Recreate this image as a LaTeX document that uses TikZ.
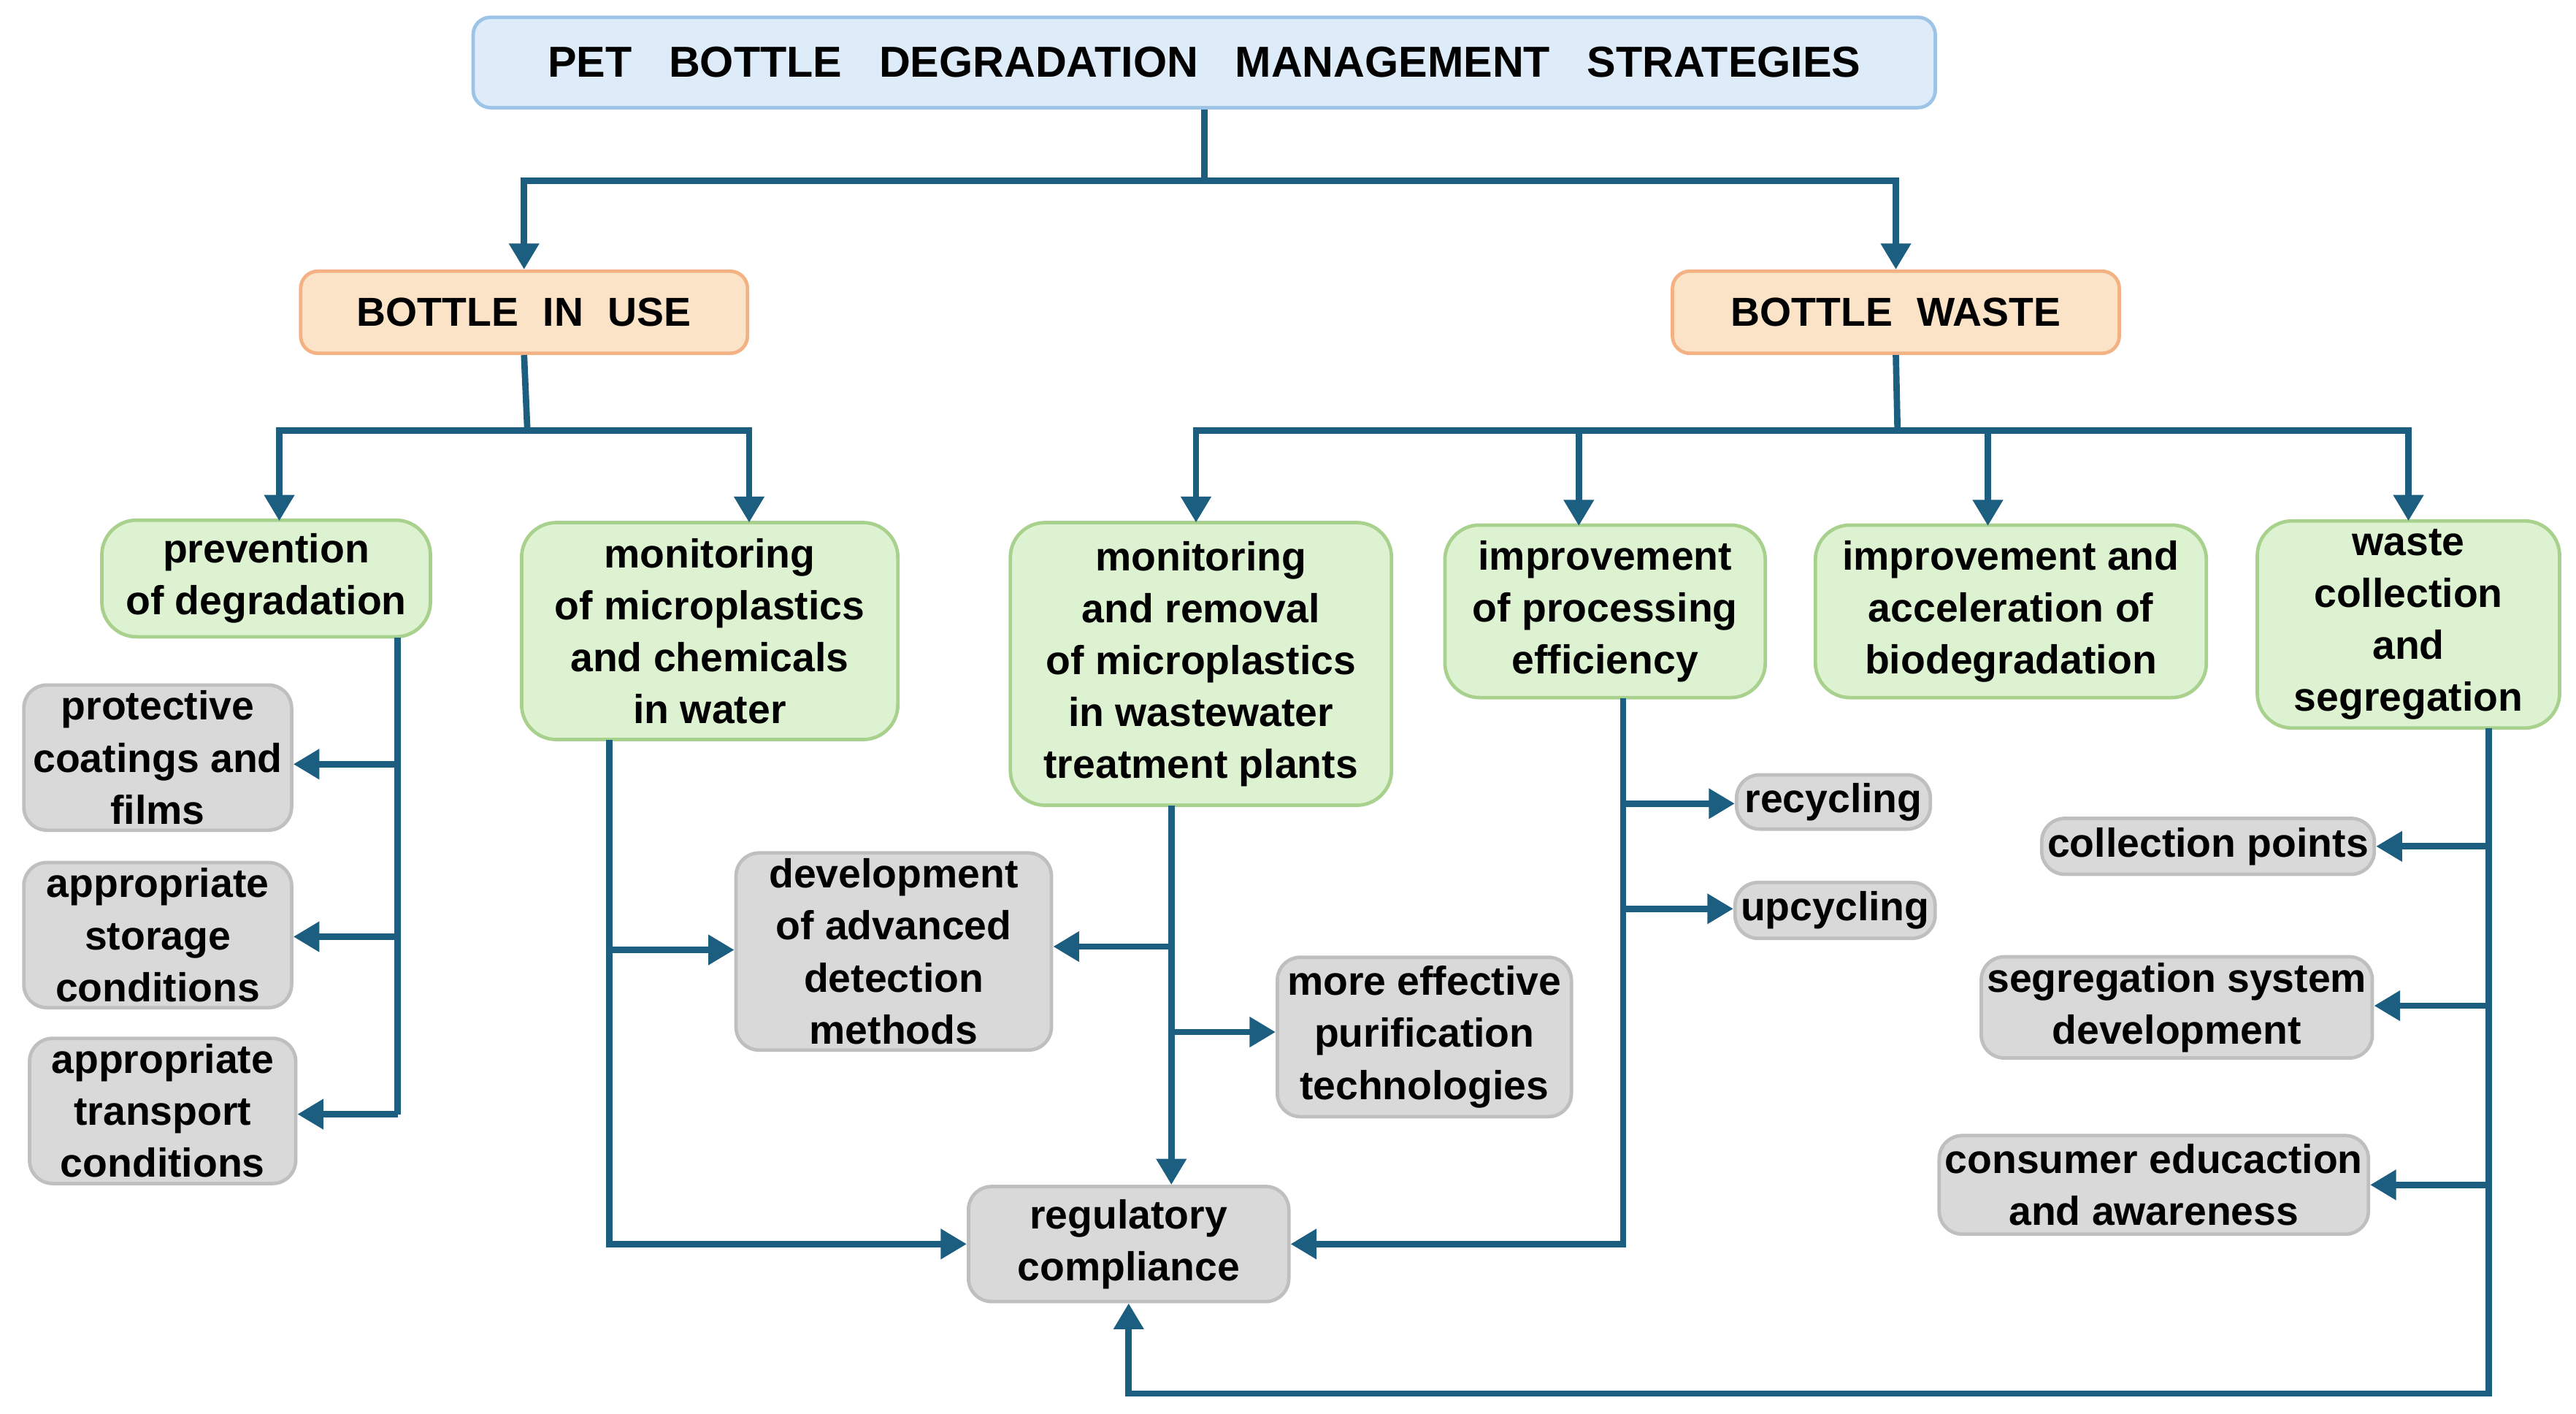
\documentclass[tikz,border=0pt]{standalone}
\usepackage{fontspec}
\setmainfont{Liberation Sans}
\usetikzlibrary{arrows.meta}
\definecolor{ln}{HTML}{1C5E80}
\definecolor{bluef}{HTML}{DEEBF8}\definecolor{blued}{HTML}{9DC3E6}
\definecolor{orf}{HTML}{FBE3C8}\definecolor{ord}{HTML}{F4B183}
\definecolor{grf}{HTML}{DDF2D1}\definecolor{grd}{HTML}{A9D18E}
\definecolor{gyf}{HTML}{D9D9D9}\definecolor{gyd}{HTML}{BFBFBF}
\begin{document}
\begin{tikzpicture}[x=0.02cm,y=-0.02cm,
 font=\fontsize{14}{18}\selectfont\bfseries,
 box/.style={draw,line width=1.2pt,align=center,inner sep=2pt},
 title/.style={box,fill=bluef,draw=blued,rounded corners=6pt},
 head/.style={box,fill=orf,draw=ord,rounded corners=6pt},
 green/.style={box,fill=grf,draw=grd,rounded corners=12pt},
 gray/.style={box,fill=gyf,draw=gyd,rounded corners=8pt},
 ar/.style={draw=ln,line width=2.2pt,-{Triangle[length=9pt,width=10pt]}},
 ln/.style={draw=ln,line width=2.2pt}]
\useasboundingbox (0,0) rectangle (1568,860);
\node[title,minimum width=890*0.02cm,minimum height=55*0.02cm,font=\fontsize{15}{18}\selectfont\bfseries] (t) at (733,38) {PET\hspace{0.45cm}BOTTLE\hspace{0.45cm}DEGRADATION\hspace{0.45cm}MANAGEMENT\hspace{0.45cm}STRATEGIES};
\node[head,minimum width=272*0.02cm,minimum height=50*0.02cm] (biu) at (319,190) {BOTTLE\hspace{0.3cm}IN\hspace{0.3cm}USE};
\node[head,minimum width=272*0.02cm,minimum height=50*0.02cm] (bw) at (1154,190) {BOTTLE\hspace{0.3cm}WASTE};
\node[green,minimum width=200*0.02cm,minimum height=71*0.02cm] (pr) at (162,352) {prevention\\of degradation};
\node[green,minimum width=229*0.02cm,minimum height=132*0.02cm] (mw) at (432,384) {monitoring\\of microplastics\\and chemicals\\in water};
\node[green,minimum width=232*0.02cm,minimum height=172*0.02cm] (mr) at (731,404) {monitoring\\and removal\\of microplastics\\in wastewater\\treatment plants};
\node[green,minimum width=195*0.02cm,minimum height=105*0.02cm] (ip) at (977,372) {improvement\\of processing\\efficiency};
\node[green,minimum width=238*0.02cm,minimum height=105*0.02cm] (ia) at (1224,372) {improvement and\\acceleration of\\biodegradation};
\node[green,minimum width=184*0.02cm,minimum height=126*0.02cm] (wc) at (1466,380) {waste\\collection\\and\\segregation};
\node[gray,minimum width=163*0.02cm,minimum height=83*0.02cm] (pc) at (96,461) {protective\\coatings and\\films};
\node[gray,minimum width=163*0.02cm,minimum height=82*0.02cm] (sc) at (96,569) {appropriate\\storage\\conditions};
\node[gray,minimum width=162*0.02cm,minimum height=83*0.02cm] (tc) at (99,676) {appropriate\\transport\\conditions};
\node[gray,minimum width=192*0.02cm,minimum height=111*0.02cm] (dv) at (544,579) {development\\of advanced\\detection\\methods};
\node[gray,minimum width=179*0.02cm,minimum height=97*0.02cm] (pu) at (867,631) {more effective\\purification\\technologies};
\node[gray,minimum width=195*0.02cm,minimum height=70*0.02cm] (rg) at (687,757) {regulatory\\compliance};
\node[gray,minimum width=118*0.02cm,minimum height=33*0.02cm] (rc) at (1116,488) {recycling};
\node[gray,minimum width=121*0.02cm,minimum height=34*0.02cm] (uc) at (1117,554) {upcycling};
\node[gray,minimum width=198*0.02cm,minimum height=34*0.02cm] (cp) at (1344,515) {collection points};
\node[gray,minimum width=236*0.02cm,minimum height=59*0.02cm] (sg) at (1325,613) {segregation system\\development};
\node[gray,minimum width=259*0.02cm,minimum height=60*0.02cm] (ce) at (1311,721) {consumer educaction\\and awareness};
% top level
\coordinate (t1) at (733,110);
\draw[ln] (t.south) -- (t1);
\draw[ar] (t1) -| (biu.north);
\draw[ar] (t1) -| (bw.north);
% bottle in use
\coordinate (b1) at (321,262);
\draw[ln] (biu.south) -- (b1);
\draw[ar] (b1) -| (170,317) coordinate (x) ;
\draw[ar] (b1) -| (456,318);
% bottle waste
\coordinate (w1) at (1155,262);
\draw[ln] (bw.south) -- (w1);
\draw[ar] (w1) -| (728,318);
\draw[ar] (w1) -| (961,320);
\draw[ar] (w1) -| (1210,320);
\draw[ar] (w1) -| (1466,317);
% prevention
\draw[ln] (242,388) -- (242,678);
\draw[ar] (242,465) -- (pc.east |- 0,465);
\draw[ar] (242,570) -- (sc.east |- 0,570);
\draw[ar] (242,678) -- (tc.east |- 0,678);
% monitoring water
\draw[ar] (371,450) -- (371,757) -- (rg.west);
\draw[ar] (371,578) -- (dv.west |- 0,578);
% monitoring removal
\draw[ar] (713,490) -- (rg.north -| 713,0);
\draw[ar] (713,576) -- (dv.east |- 0,576);
\draw[ar] (713,628) -- (pu.west |- 0,628);
% processing
\draw[ar] (988,425) -- (988,757) -- (rg.east);
\draw[ar] (988,489) -- (rc.west |- 0,489);
\draw[ar] (988,553) -- (uc.west |- 0,553);
% waste collection
\draw[ar] (1515,443) -- (1515,848) -- (687,848) -- (rg.south);
\draw[ar] (1515,515) -- (cp.east |- 0,515);
\draw[ar] (1515,612) -- (sg.east |- 0,612);
\draw[ar] (1515,721) -- (ce.east |- 0,721);
\end{tikzpicture}
\end{document}
